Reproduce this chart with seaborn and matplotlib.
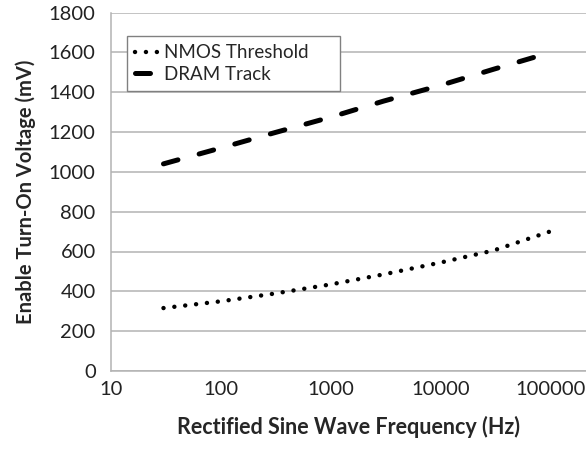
import matplotlib
matplotlib.use("Agg")
import matplotlib.pyplot as plt
import seaborn as sns
import pandas as pd
import numpy as np
from matplotlib.ticker import FixedLocator, NullLocator, FixedFormatter

freq_hz = [30, 100, 300, 1000, 3000, 10000, 30000, 100000]
nmos_threshold = [316, 350, 388, 435, 485, 545, 605, 702]
dram_track = [1040, 1120, 1195, 1275, 1355, 1435, 1515, 1600]
x_ticks = [10, 100, 1000, 10000, 100000]
x_tick_labels = ["10", "100", "1000", "10000", "100000"]
y_ticks = [0, 200, 400, 600, 800, 1000, 1200, 1400, 1600, 1800]

sns.set_theme(style="white")
plt.rcParams['font.family'] = ['Lato', 'DejaVu Sans']

df = pd.DataFrame({
    "freq": freq_hz * 2,
    "mv": nmos_threshold + dram_track,
    "series": ["NMOS Threshold"] * len(freq_hz) + ["DRAM Track"] * len(freq_hz),
})

fig = plt.figure(figsize=(5.86, 4.51), dpi=100)
ax = fig.add_axes([111 / 586, 1 - 371 / 451, 1 - 111 / 586, (371 - 12.5) / 451])

sns.lineplot(data=df[df.series == "NMOS Threshold"], x="freq", y="mv", ax=ax,
             color="black", linewidth=3.2, label="NMOS Threshold")
sns.lineplot(data=df[df.series == "DRAM Track"], x="freq", y="mv", ax=ax,
             color="black", linewidth=3.6, label="DRAM Track")

lines = ax.get_lines()
lines[0].set_dashes((0.01, 2.45))
lines[0].set_dash_capstyle("round")
lines[1].set_dashes((3.0, 4.4))
lines[1].set_dash_capstyle("round")

ax.set_xscale("log")
ax.set_xlim(10, 10 ** (5 + 35 / 110))
ax.set_ylim(0, 1800)
ax.xaxis.set_major_locator(FixedLocator(x_ticks))
ax.xaxis.set_major_formatter(FixedFormatter(x_tick_labels))
ax.xaxis.set_minor_locator(NullLocator())
ax.set_yticks(y_ticks)

ax.yaxis.grid(True, color="#b3b3b3", linewidth=1.1)
ax.xaxis.grid(False)
for s in ["top", "right"]:
    ax.spines[s].set_visible(False)
for s in ["left", "bottom"]:
    ax.spines[s].set_color("#b3b3b3")
    ax.spines[s].set_linewidth(1.1)

ax.tick_params(axis="both", length=0, labelsize=14.5, colors="#222222")
ax.tick_params(axis="x", pad=7)
ax.tick_params(axis="y", pad=11)

ax.set_xlabel("Rectified Sine Wave Frequency (Hz)", fontsize=15.5, fontweight="bold", labelpad=13)
ax.set_ylabel("Enable Turn-On Voltage (mV)", fontsize=14.5, fontweight="bold", labelpad=9)

ah = 358.5
leg = ax.legend(loc="upper left",
                bbox_to_anchor=((127 - 111) / 475, (371 - 86) / ah, 213 / 475, 50 / ah),
                mode="expand", frameon=True, fontsize=13.5, handlelength=1.3,
                handletextpad=0.25, borderpad=0.45, labelspacing=0.22,
                fancybox=False, borderaxespad=0)
leg.get_frame().set_edgecolor("#808080")
leg.get_frame().set_linewidth(1.0)
leg.get_frame().set_alpha(1)

fig.savefig("out.png", dpi=100)
